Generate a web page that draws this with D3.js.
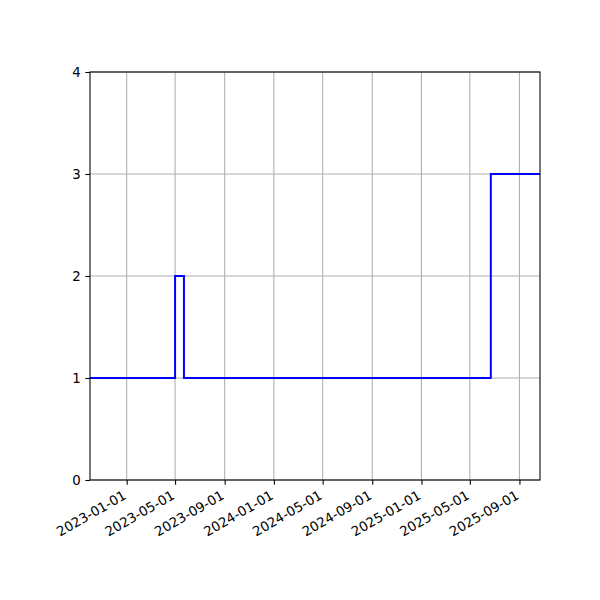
<!DOCTYPE html>
<html>
<head>
<meta charset="utf-8">
<script src="https://cdn.jsdelivr.net/npm/d3@7"></script>
<style>
  body { margin: 0; background: white; }
  text { font-family: "DejaVu Sans", sans-serif; }
</style>
</head>
<body>
<script>
// data: value changes (step after)
let dates = ['2022-10-02', '2023-05-01', '2023-05-23', '2025-06-22', '2025-10-22'];
let values = [1, 2, 1, 3, 3];
let xTicks = ['2023-01-01', '2023-05-01', '2023-09-01', '2024-01-01', '2024-05-01',
              '2024-09-01', '2025-01-01', '2025-05-01', '2025-09-01'];
let yTicks = [0, 1, 2, 3, 4];

let width = 600, height = 600;
let margin = { top: 72, bottom: 120, left: 90, right: 60 };

let parse = d3.utcParse('%Y-%m-%d');
let data = dates.map((d, i) => ({ date: parse(d), value: values[i] }));

let svg = d3.select('body')
            .append('svg')
            .attr('width', width)
            .attr('height', height)
            .style('background', 'white');

let xscale = d3.scaleUtc()
              .domain([parse(dates[0]), parse(dates[dates.length - 1])])
              .range([margin.left, width - margin.right]);

let yscale = d3.scaleLinear()
              .domain([0, 4])
              .range([height - margin.bottom, margin.top]);

// grid
svg.append('g')
  .selectAll('line')
  .data(xTicks)
  .join('line')
  .attr('x1', d => xscale(parse(d)))
  .attr('x2', d => xscale(parse(d)))
  .attr('y1', margin.top)
  .attr('y2', height - margin.bottom)
  .attr('stroke', '#b0b0b0')
  .attr('stroke-width', 1.07);

svg.append('g')
  .selectAll('line')
  .data(yTicks)
  .join('line')
  .attr('x1', margin.left)
  .attr('x2', width - margin.right)
  .attr('y1', d => yscale(d))
  .attr('y2', d => yscale(d))
  .attr('stroke', '#b0b0b0')
  .attr('stroke-width', 1.07);

// line
let line = d3.line()
            .x(d => xscale(d.date))
            .y(d => yscale(d.value))
            .curve(d3.curveStepAfter);

svg.append('path')
  .datum(data)
  .attr('d', line)
  .attr('fill', 'none')
  .attr('stroke', 'blue')
  .attr('stroke-width', 2);

// axes
let xaxis = svg.append('g')
              .attr('transform', `translate(0,${height - margin.bottom})`)
              .call(d3.axisBottom(xscale)
                .tickValues(xTicks.map(parse))
                .tickFormat(d3.utcFormat('%Y-%m-%d'))
                .tickSizeOuter(0)
                .tickSize(4.67)
                .tickPadding(4.67));

// rotated labels, right end at the tick
xaxis.selectAll('text')
  .attr('font-size', 13.33)
  .attr('fill', 'black')
  .style('text-anchor', 'end')
  .attr('x', 0)
  .attr('y', 0)
  .attr('dy', 0)
  .attr('transform', 'translate(0,18) rotate(-30)');

let yaxis = svg.append('g')
              .attr('transform', `translate(${margin.left},0)`)
              .call(d3.axisLeft(yscale)
                .tickValues(yTicks)
                .tickFormat(d3.format('d'))
                .tickSizeOuter(0)
                .tickSize(4.67)
                .tickPadding(4.67));

yaxis.selectAll('text').attr('font-size', 13.33).attr('fill', 'black');

svg.selectAll('.domain').remove();
svg.selectAll('.tick line').attr('stroke', 'black').attr('stroke-width', 1.07);

// frame
svg.append('rect')
  .attr('x', margin.left)
  .attr('y', margin.top)
  .attr('width', width - margin.left - margin.right)
  .attr('height', height - margin.top - margin.bottom)
  .attr('fill', 'none')
  .attr('stroke', 'black')
  .attr('stroke-width', 1.07);
</script>
</body>
</html>
